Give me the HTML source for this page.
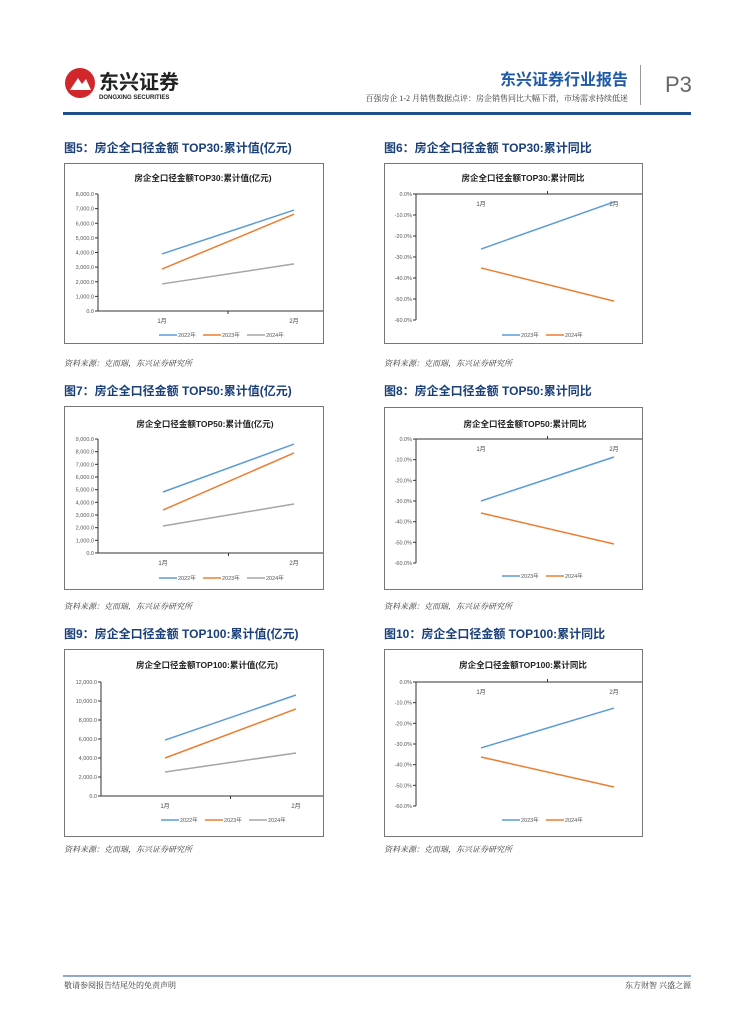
<!DOCTYPE html>
<html><head><meta charset="utf-8">
<style>
body{margin:0;background:#fff;}
#page{position:relative;width:755px;height:1024px;overflow:hidden;font-family:"Liberation Sans","Noto Sans CJK SC",sans-serif;}
.abs{position:absolute;}
.ftitle{font-size:12px;font-weight:bold;color:#1a3f7a;font-family:"Liberation Sans","Noto Sans CJK SC",sans-serif;}
.src{font-size:8px;font-style:italic;color:#333;font-family:"Liberation Serif","Noto Serif CJK SC",serif;}
.box{position:absolute;border:1px solid #777;background:#fff;}
svg text{font-family:"Liberation Sans","Noto Sans CJK SC",sans-serif;}
</style></head><body>
<div id="page">
  <div class="abs" style="left:64px;top:66px;width:120px;height:36px;">
    <svg width="120" height="36">
      <circle cx="16" cy="17" r="15" fill="#d1262b"/>
      <path d="M6 24 L14 12 L18 18 L22 13 L27 24 Z" fill="#fff"/>
      <text x="35" y="23" font-size="20" font-weight="bold" fill="#222">东兴证券</text>
      <text x="35" y="33" font-size="6" font-weight="bold" fill="#222">DONGXING SECURITIES</text>
    </svg>
  </div>
  <div class="abs" style="right:127px;top:66px;font-size:16px;font-weight:bold;color:#1f5aa6;">东兴证券行业报告</div>
  <div class="abs" style="right:127px;top:93px;font-size:8px;color:#333;font-family:'Liberation Serif','Noto Serif CJK SC',serif;">百强房企 1-2 月销售数据点评：房企销售同比大幅下滑，市场需求持续低迷</div>
  <div class="abs" style="left:640px;top:65px;width:1px;height:40px;background:#999;"></div>
  <div class="abs" style="left:665px;top:72px;font-size:22px;color:#666;">P3</div>
  <div class="abs" style="left:63px;top:112px;width:628px;height:3px;background:#1f4e8c;"></div>

  <div class="abs ftitle" style="left:64px;top:139px;">图5：房企全口径金额 TOP30:累计值(亿元)</div>
  <div class="abs ftitle" style="left:384px;top:139px;">图6：房企全口径金额 TOP30:累计同比</div>
  <div class="abs ftitle" style="left:64px;top:382px;">图7：房企全口径金额 TOP50:累计值(亿元)</div>
  <div class="abs ftitle" style="left:384px;top:382px;">图8：房企全口径金额 TOP50:累计同比</div>
  <div class="abs ftitle" style="left:64px;top:625px;">图9：房企全口径金额 TOP100:累计值(亿元)</div>
  <div class="abs ftitle" style="left:384px;top:625px;">图10：房企全口径金额 TOP100:累计同比</div>

  <div class="abs src" style="left:64px;top:358px;">资料来源：克而瑞，东兴证券研究所</div>
  <div class="abs src" style="left:384px;top:358px;">资料来源：克而瑞，东兴证券研究所</div>
  <div class="abs src" style="left:64px;top:601px;">资料来源：克而瑞，东兴证券研究所</div>
  <div class="abs src" style="left:384px;top:601px;">资料来源：克而瑞，东兴证券研究所</div>
  <div class="abs src" style="left:64px;top:844px;">资料来源：克而瑞，东兴证券研究所</div>
  <div class="abs src" style="left:384px;top:844px;">资料来源：克而瑞，东兴证券研究所</div>

  <div class="box" style="left:64px;top:163px;width:258px;height:179px;"><svg id="c5" width="258" height="179"></svg></div>
  <div class="box" style="left:384px;top:163px;width:257px;height:179px;"><svg id="c6" width="257" height="179"></svg></div>
  <div class="box" style="left:64px;top:406px;width:258px;height:182px;"><svg id="c7" width="258" height="182"></svg></div>
  <div class="box" style="left:384px;top:407px;width:257px;height:181px;"><svg id="c8" width="257" height="181"></svg></div>
  <div class="box" style="left:64px;top:649px;width:258px;height:186px;"><svg id="c9" width="258" height="186"></svg></div>
  <div class="box" style="left:384px;top:649px;width:257px;height:186px;"><svg id="c10" width="257" height="186"></svg></div>

  <div class="abs" style="left:63px;top:975px;width:628px;height:2px;background:#8fa9c6;"></div>
  <div class="abs src" style="left:64px;top:980px;font-style:normal;">敬请参阅报告结尾处的免责声明</div>
  <div class="abs src" style="right:64px;top:980px;font-style:normal;">东方财智 兴盛之源</div>
</div>
<script>
const categories = ["1月","2月"];
const c5Ticks = ["0.0","1,000.0","2,000.0","3,000.0","4,000.0","5,000.0","6,000.0","7,000.0","8,000.0"];
const c5S2022 = [3900, 6900];
const c5S2023 = [2870, 6620];
const c5S2024 = [1850, 3220];
const c6Ticks = ["0.0%","-10.0%","-20.0%","-30.0%","-40.0%","-50.0%","-60.0%"];
const c6S2023 = [-26.2, -3.8];
const c6S2024 = [-35.2, -51.0];
const c7Ticks = ["0.0","1,000.0","2,000.0","3,000.0","4,000.0","5,000.0","6,000.0","7,000.0","8,000.0","9,000.0"];
const c7S2022 = [4815, 8600];
const c7S2023 = [3390, 7900];
const c7S2024 = [2130, 3870];
const c8Ticks = ["0.0%","-10.0%","-20.0%","-30.0%","-40.0%","-50.0%","-60.0%"];
const c8S2023 = [-30.0, -8.7];
const c8S2024 = [-35.8, -50.8];
const c9Ticks = ["0.0","2,000.0","4,000.0","6,000.0","8,000.0","10,000.0","12,000.0"];
const c9S2022 = [5890, 10630];
const c9S2023 = [4000, 9160];
const c9S2024 = [2530, 4530];
const c10Ticks = ["0.0%","-10.0%","-20.0%","-30.0%","-40.0%","-50.0%","-60.0%"];
const c10S2023 = [-31.9, -12.6];
const c10S2024 = [-36.3, -50.8];

const NS="http://www.w3.org/2000/svg";
function mk(svg,tag,attrs){const e=document.createElementNS(NS,tag);for(const k in attrs)e.setAttribute(k,attrs[k]);svg.appendChild(e);return e;}
function chart(id,o){
  const svg=document.getElementById(id);
  const t=mk(svg,'text',{x:o.titleX,y:o.titleY,'font-size':8.5,'font-weight':'bold',fill:'#222','text-anchor':'middle'});
  t.textContent=o.title;
  
  
  const y=v=>o.y0+(v-o.vmin)/(o.vmax-o.vmin)*(o.y1-o.y0);
  const x=i=>o.cx[i];
  const n=o.ticks.length;
  for(let i=0;i<n;i++){
    const v=o.vmin+(o.vmax-o.vmin)*i/(n-1);
    const yy=y(v);
    mk(svg,'line',{x1:o.ax-3,x2:o.ax,y1:yy,y2:yy,stroke:'#333','stroke-width':1});
    const tl=mk(svg,'text',{x:o.ax-4,y:yy+2,'font-size':5.5,fill:'#555','text-anchor':'end'});
    tl.textContent=o.ticks[i];
    
    
  }
  const top=Math.min(y(o.vmin),y(o.vmax)),bot=Math.max(y(o.vmin),y(o.vmax));
  mk(svg,'line',{x1:o.ax,x2:o.ax,y1:top,y2:bot,stroke:'#333','stroke-width':1});
  const xa=y(o.xAt);
  mk(svg,'line',{x1:o.ax,x2:260,y1:xa,y2:xa,stroke:'#333','stroke-width':1});
  mk(svg,'line',{x1:(x(0)+x(1))/2,x2:(x(0)+x(1))/2,y1:xa,y2:xa+(o.pct?-3:3),stroke:'#333'});
  categories.forEach((c,i)=>{
    const cl=mk(svg,'text',{x:x(i),y:xa+(o.pct?12:12),'font-size':6,fill:'#444','text-anchor':'middle'});
    cl.textContent=c;
    
    
  });
  let lx=o.legX;
  o.series.forEach(s=>{
    const p=mk(svg,'polyline',{points:s.data.map((v,i)=>x(i)+','+y(v)).join(' '),fill:'none',stroke:s.color,'stroke-width':1.5});
    
    
    mk(svg,'line',{x1:lx,x2:lx+18,y1:o.legY,y2:o.legY,stroke:s.color,'stroke-width':1.5});
    const lt=mk(svg,'text',{x:lx+19,y:o.legY+2,'font-size':5.5,fill:'#555'});
    lt.textContent=s.name;
    
    
    lx+=44;
  });
}
const B='#5b9bd5',O='#ed7d31',G='#a5a5a5';
chart('c5',{title:'房企全口径金额TOP30:累计值(亿元)',titleX:138,titleY:17,ax:33,cx:[97,229],vmin:0,vmax:8000,y0:147,y1:30,xAt:0,ticks:c5Ticks,legX:94,legY:171,
 series:[{name:'2022年',data:c5S2022,color:B},{name:'2023年',data:c5S2023,color:O},{name:'2024年',data:c5S2024,color:G}]});
chart('c6',{title:'房企全口径金额TOP30:累计同比',titleX:138,titleY:17,ax:31,cx:[96,229],vmin:0,vmax:-60,y0:30,y1:156,xAt:0,pct:true,ticks:c6Ticks,legX:117,legY:171,
 series:[{name:'2023年',data:c6S2023,color:B},{name:'2024年',data:c6S2024,color:O}]});
chart('c7',{title:'房企全口径金额TOP50:累计值(亿元)',titleX:140,titleY:20,ax:33,cx:[98,229],vmin:0,vmax:9000,y0:146,y1:32,xAt:0,ticks:c7Ticks,legX:94,legY:171,
 series:[{name:'2022年',data:c7S2022,color:B},{name:'2023年',data:c7S2023,color:O},{name:'2024年',data:c7S2024,color:G}]});
chart('c8',{title:'房企全口径金额TOP50:累计同比',titleX:140,titleY:19,ax:31,cx:[96,229],vmin:0,vmax:-60,y0:31,y1:155,xAt:0,pct:true,ticks:c8Ticks,legX:117,legY:168,
 series:[{name:'2023年',data:c8S2023,color:B},{name:'2024年',data:c8S2024,color:O}]});
chart('c9',{title:'房企全口径金额TOP100:累计值(亿元)',titleX:142,titleY:18,ax:36,cx:[100,231],vmin:0,vmax:12000,y0:146,y1:32,xAt:0,ticks:c9Ticks,legX:96,legY:170,
 series:[{name:'2022年',data:c9S2022,color:B},{name:'2023年',data:c9S2023,color:O},{name:'2024年',data:c9S2024,color:G}]});
chart('c10',{title:'房企全口径金额TOP100:累计同比',titleX:138,titleY:18,ax:31,cx:[96,229],vmin:0,vmax:-60,y0:32,y1:156,xAt:0,pct:true,ticks:c10Ticks,legX:117,legY:170,
 series:[{name:'2023年',data:c10S2023,color:B},{name:'2024年',data:c10S2024,color:O}]});
</script>
</body></html>
